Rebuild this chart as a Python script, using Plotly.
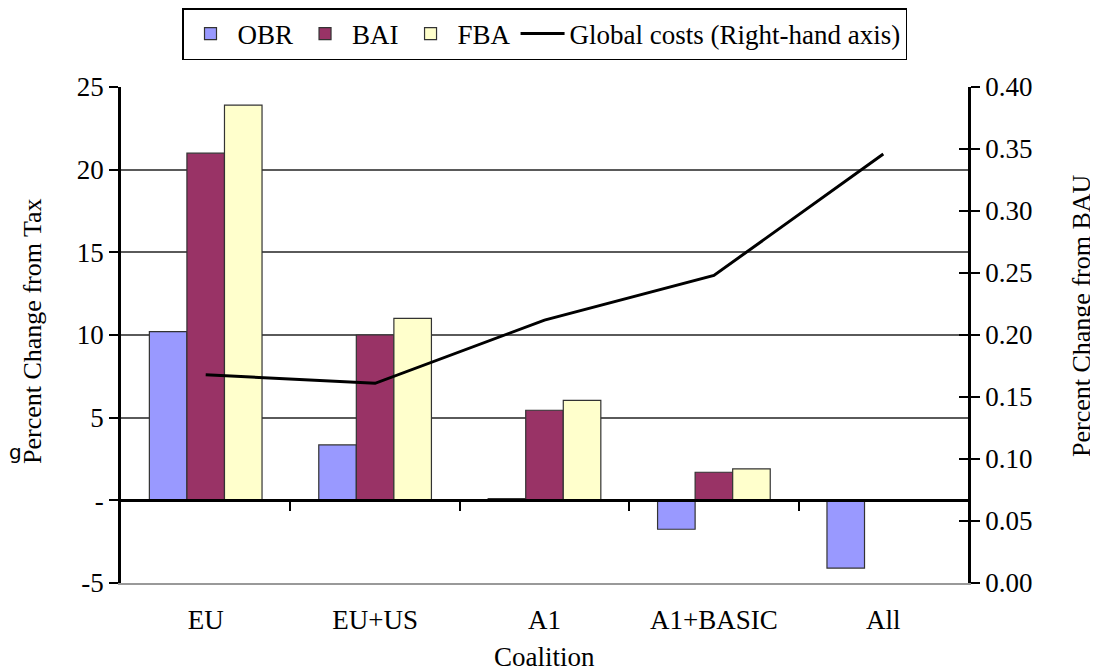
import plotly.graph_objects as go

categories = ["EU", "EU+US", "A1", "A1+BASIC", "All"]
obr = [10.2, 3.35, 0.1, -1.75, -4.1]
bai = [21.0, 10.0, 5.45, 1.7, 0.0]
fba = [23.9, 11.0, 6.05, 1.9, 0.0]
global_costs = [0.168, 0.161, 0.212, 0.248, 0.346]

left_tickvals = [-5, 0, 5, 10, 15, 20, 25]
left_ticktext = ["-5", "-", "5", "10", "15", "20", "25"]
right_tickvals = [0, 0.05, 0.10, 0.15, 0.20, 0.25, 0.30, 0.35, 0.40]

FONT = "Liberation Serif, Times New Roman, serif"
FS = 27
OFF = 8  # page body margin
W, H = 1098 - OFF, 671 - OFF
L, T = 121 - OFF, 87 - OFF
R = W - (968 - OFF)
B = H - (583 - OFF)
pw = W - L - R
ph = H - T - B


def px(xpage):
    return (xpage - OFF - L) / pw


def py(ypage):
    return (H - B - (ypage - OFF)) / ph


fig = go.Figure()
bar_line = dict(color="#333333", width=1.2)
fig.add_trace(go.Bar(x=categories, y=obr, name="OBR", marker=dict(color="#9999FF", line=bar_line)))
fig.add_trace(go.Bar(x=categories, y=bai, name="BAI", marker=dict(color="#993366", line=bar_line)))
fig.add_trace(go.Bar(x=categories, y=fba, name="FBA", marker=dict(color="#FFFFCC", line=bar_line)))
fig.add_trace(go.Scatter(x=categories, y=global_costs, name="Global costs (Right-hand axis)",
                         mode="lines", line=dict(color="black", width=3), yaxis="y2"))
# helper (invisible) traces so that the auxiliary axes get drawn
fig.add_trace(go.Scatter(x=[None], y=[None], xaxis="x2", yaxis="y", showlegend=False, hoverinfo="skip"))
fig.add_trace(go.Scatter(x=[None], y=[None], xaxis="x", yaxis="y3", showlegend=False, hoverinfo="skip"))

fig.update_layout(
    width=W, height=H,
    margin=dict(l=L, r=R, t=T, b=B, autoexpand=False),
    paper_bgcolor="white", plot_bgcolor="white",
    barmode="group", bargap=0.335, bargroupgap=0,
    font=dict(family=FONT, size=FS, color="black"),
    showlegend=True,
    legend=dict(orientation="h", x=0.5, xanchor="center", y=py(8), yanchor="top",
                bordercolor="black", borderwidth=1.5, bgcolor="white",
                font=dict(family=FONT, size=FS), itemwidth=44, tracegroupgap=0),
    xaxis=dict(type="category", range=[-0.5, 4.5], showgrid=False, zeroline=False,
               showline=True, linecolor="#999999", linewidth=2, mirror=False,
               ticks="outside", ticklen=12, tickcolor="rgba(0,0,0,0)",
               tickfont=dict(family=FONT, size=FS)),
    xaxis2=dict(overlaying="x", anchor="free", position=5 / 30, side="bottom",
                range=[-0.5, 4.5], tickvals=[0.5, 1.5, 2.5, 3.5], showticklabels=False,
                ticks="outside", ticklen=9, tickwidth=2, tickcolor="black",
                showline=True, linecolor="black", linewidth=3, showgrid=False, zeroline=False),
    yaxis=dict(range=[-5, 25], tickvals=left_tickvals, ticktext=left_ticktext,
               showgrid=True, gridcolor="#5a5a5a", gridwidth=1.5, zeroline=False,
               showline=True, linecolor="black", linewidth=2.5,
               ticks="outside", ticklen=9, tickwidth=2, tickcolor="black",
               tickfont=dict(family=FONT, size=FS)),
    yaxis2=dict(overlaying="y", side="right", anchor="x", range=[0, 0.4],
                tickvals=right_tickvals, tickformat=".2f", showgrid=False, zeroline=False,
                showline=True, linecolor="black", linewidth=2.5,
                ticks="outside", ticklen=9, tickwidth=2, tickcolor="black",
                tickfont=dict(family=FONT, size=FS)),
    yaxis3=dict(overlaying="y", side="right", anchor="x", range=[0, 0.4],
                tickvals=right_tickvals, showticklabels=False, showgrid=False, zeroline=False,
                showline=False, ticks="inside", ticklen=9, tickwidth=2, tickcolor="black"),
)

fig.add_annotation(text="Percent Change from Tax", xref="paper", yref="paper",
                   x=px(32), y=py(331), textangle=-90, showarrow=False,
                   xanchor="center", yanchor="middle", font=dict(family=FONT, size=FS - 1))
fig.add_annotation(text="Percent Change from BAU", xref="paper", yref="paper",
                   x=px(1081), y=py(316), textangle=-90, showarrow=False,
                   xanchor="center", yanchor="middle", font=dict(family=FONT, size=FS - 1))
fig.add_annotation(text="Coalition", xref="paper", yref="paper",
                   x=0.5, y=py(657), showarrow=False,
                   xanchor="center", yanchor="middle", font=dict(family=FONT, size=FS))
fig.add_annotation(text="g", xref="paper", yref="paper",
                   x=px(OFF), y=py(452), showarrow=False, borderpad=0,
                   xanchor="left", yanchor="middle", font=dict(family="DejaVu Sans", size=20))

fig.write_html("out.html")
